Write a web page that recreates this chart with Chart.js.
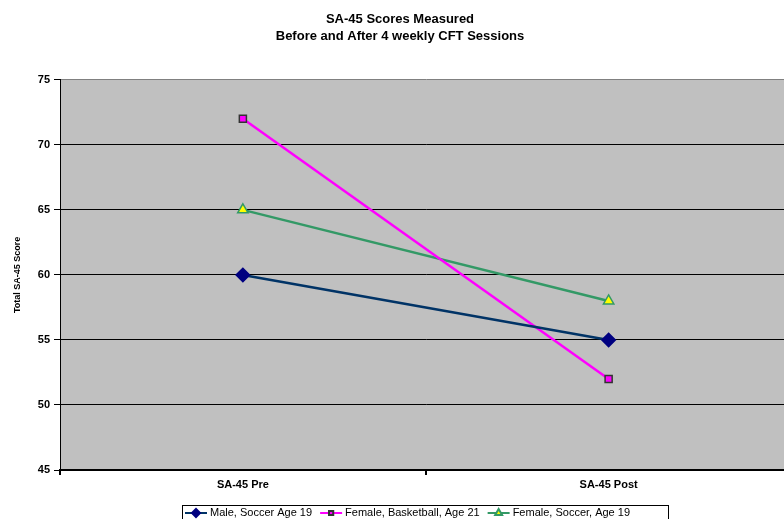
<!DOCTYPE html>
<html>
<head>
<meta charset="utf-8">
<script src="https://cdn.jsdelivr.net/npm/chart.js@4"></script>
<style>
  body { margin: 0; overflow: hidden; background: #fff; }
  canvas { display: block; }
</style>
</head>
<body>
<canvas id="chart1" width="800" height="519"></canvas>
<script>
var sessions = ['SA-45 Pre', 'SA-45 Post'];
var maleSoccer19 = [60, 55];
var femaleBasketball21 = [72, 52];
var femaleSoccer19 = [65, 58];
var seriesNames = ['Male, Soccer Age 19', 'Female, Basketball, Age 21', 'Female, Soccer, Age 19'];
var yTicks = [45, 50, 55, 60, 65, 70, 75];

var fontFam = '"Liberation Sans", Arial, sans-serif';

// gray plot area like the old excel chart
const plotBg = {
  id: 'plotBg',
  beforeDraw(chart) {
    const a = chart.chartArea;
    const ctx = chart.ctx;
    ctx.save();
    ctx.fillStyle = '#c0c0c0';
    ctx.fillRect(a.left, a.top, a.right - a.left, a.bottom - a.top);
    ctx.restore();
  }
};

// legend box at the bottom, line + marker for each series
const boxLegend = {
  id: 'boxLegend',
  afterDraw(chart) {
    const ctx = chart.ctx;
    ctx.save();
    ctx.font = '11px ' + fontFam;
    ctx.textBaseline = 'middle';
    var y = 513;
    var x = 185;
    ctx.strokeStyle = '#000';
    ctx.lineWidth = 1;
    ctx.strokeRect(182.5, 505.5, 486, 20);
    chart.data.datasets.forEach(function (ds, i) {
      ctx.strokeStyle = ds.borderColor;
      ctx.lineWidth = 2;
      ctx.beginPath();
      ctx.moveTo(x, y);
      ctx.lineTo(x + 22, y);
      ctx.stroke();
      ctx.fillStyle = ds.pointBackgroundColor;
      ctx.strokeStyle = ds.pointBorderColor;
      Chart.helpers.drawPoint(ctx, {
        pointStyle: ds.pointStyle,
        radius: ds.pointRadius - 2,
        borderWidth: 1
      }, x + 11, y);
      ctx.fillStyle = '#000';
      ctx.fillText(seriesNames[i], x + 25, y);
      x += 25 + ctx.measureText(seriesNames[i]).width + 8;
    });
    ctx.restore();
  }
};

const data1 = {
  labels: sessions,
  datasets: [
    {
      label: seriesNames[0],
      data: maleSoccer19,
      borderColor: '#003366',
      borderWidth: 2.5,
      pointStyle: 'rectRot',
      pointRadius: 6,
      pointBackgroundColor: '#000080',
      pointBorderColor: '#000080'
    },
    {
      label: seriesNames[1],
      data: femaleBasketball21,
      borderColor: '#ff00ff',
      borderWidth: 2.5,
      pointStyle: 'rect',
      pointRadius: 5,
      pointBackgroundColor: '#ff00ff',
      pointBorderColor: '#333333',
      pointBorderWidth: 1.5
    },
    {
      label: seriesNames[2],
      data: femaleSoccer19,
      borderColor: '#339966',
      borderWidth: 2.5,
      pointStyle: 'triangle',
      pointRadius: 6,
      pointBackgroundColor: '#ffff00',
      pointBorderColor: '#339966',
      pointBorderWidth: 1.5
    }
  ]
};

const config1 = {
  type: 'line',
  data: data1,
  options: {
    responsive: false,
    animation: false,
    devicePixelRatio: 1,
    layout: { padding: { top: 0, right: 0, bottom: 30, left: 0 } },
    plugins: {
      legend: { display: false },
      tooltip: { enabled: false },
      title: {
        display: true,
        text: ['SA-45 Scores Measured', 'Before and After 4 weekly CFT Sessions'],
        color: '#000',
        font: { family: fontFam, size: 13, weight: 'bold', lineHeight: 1.3 },
        padding: { top: 11, bottom: 35 }
      }
    },
    scales: {
      x: {
        offset: true,
        grid: { display: true, offset: true, drawOnChartArea: false, drawTicks: true, tickLength: 5, color: '#000', lineWidth: 2 },
        border: { display: true, color: '#000', width: 2 },
        ticks: {
          color: '#000',
          padding: 3,
          font: { family: fontFam, size: 11, weight: 'bold' }
        },
        afterFit: function (s) { s.height = 19; }
      },
      y: {
        min: 45,
        max: 75,
        afterBuildTicks: function (s) { s.ticks = yTicks.map(function (v) { return { value: v }; }); },
        grid: {
          color: function (c) { return c.tick && c.tick.value === 75 ? '#808080' : '#000'; },
          tickColor: '#000',
          lineWidth: 1,
          tickLength: 6
        },
        border: { display: true, color: '#000', width: 1 },
        ticks: {
          color: '#000',
          padding: 4,
          font: { family: fontFam, size: 11, weight: 'bold' }
        },
        title: {
          display: true,
          text: 'Total SA-45 Score',
          color: '#000',
          padding: { top: 12, bottom: 0 },
          font: { family: fontFam, size: 9, weight: 'bold' }
        },
        afterFit: function (s) { s.width = 60; }
      }
    }
  },
  plugins: [plotBg, boxLegend]
};

var myChart = new Chart(document.getElementById('chart1'), config1);
</script>
</body>
</html>
